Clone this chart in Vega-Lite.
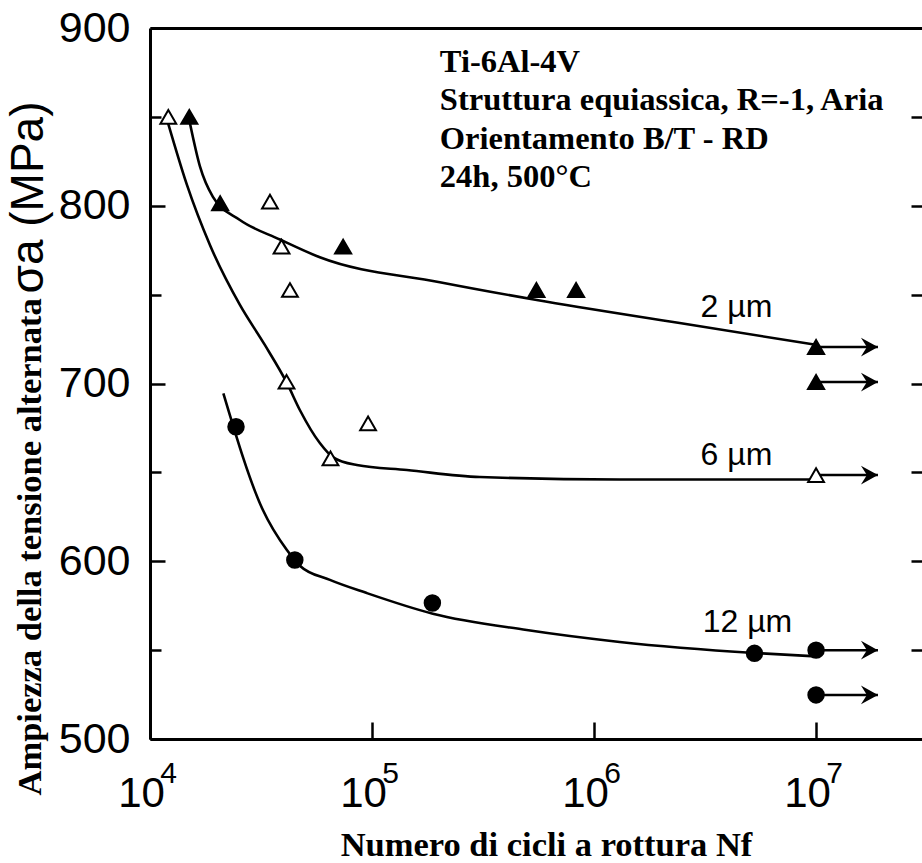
{
  "$schema": "https://vega.github.io/schema/vega-lite/v6.json",
  "width": 772,
  "height": 711,
  "autosize": {"type": "none"},
  "padding": {"left": 150, "top": 28, "right": 0, "bottom": 124},
  "background": "white",
  "config": {
    "view": {"stroke": null},
    "axis": {"grid": false, "domainColor": "black", "tickColor": "black", "labelColor": "black", "titleColor": "black"}
  },
  "datasets": {
    "curves": [
      {"series": "2 µm", "N": 15100, "S": 847},
      {"series": "2 µm", "N": 16800, "S": 822},
      {"series": "2 µm", "N": 19200, "S": 805},
      {"series": "2 µm", "N": 25400, "S": 792},
      {"series": "2 µm", "N": 38500, "S": 781},
      {"series": "2 µm", "N": 58200, "S": 771},
      {"series": "2 µm", "N": 202000, "S": 757},
      {"series": "2 µm", "N": 552000, "S": 747},
      {"series": "2 µm", "N": 2430000, "S": 734},
      {"series": "2 µm", "N": 10300000, "S": 721.5},
      {"series": "6 µm", "N": 12050, "S": 846.6},
      {"series": "6 µm", "N": 14670, "S": 811.7},
      {"series": "6 µm", "N": 18620, "S": 777.9},
      {"series": "6 µm", "N": 25410, "S": 744.2},
      {"series": "6 µm", "N": 32900, "S": 721.7},
      {"series": "6 µm", "N": 41360, "S": 700.3},
      {"series": "6 µm", "N": 47300, "S": 685.1},
      {"series": "6 µm", "N": 58200, "S": 666.5},
      {"series": "6 µm", "N": 66600, "S": 658.6},
      {"series": "6 µm", "N": 85400, "S": 654.1},
      {"series": "6 µm", "N": 143600, "S": 651.3},
      {"series": "6 µm", "N": 306000, "S": 647.4},
      {"series": "6 µm", "N": 1303000, "S": 646},
      {"series": "6 µm", "N": 10000000, "S": 646},
      {"series": "12 µm", "N": 21400, "S": 694.5},
      {"series": "12 µm", "N": 32250, "S": 628.8},
      {"series": "12 µm", "N": 41360, "S": 606.3},
      {"series": "12 µm", "N": 47300, "S": 597.5},
      {"series": "12 µm", "N": 64600, "S": 589.5},
      {"series": "12 µm", "N": 94700, "S": 582.1},
      {"series": "12 µm", "N": 187800, "S": 570.5},
      {"series": "12 µm", "N": 497500, "S": 561.3},
      {"series": "12 µm", "N": 1304000, "S": 554.6},
      {"series": "12 µm", "N": 5280000, "S": 548.4},
      {"series": "12 µm", "N": 10000000, "S": 546.5}
    ],
    "points": [
      {"series": "2 µm", "N": 15030, "S": 850},
      {"series": "2 µm", "N": 20700, "S": 801.4},
      {"series": "2 µm", "N": 74100, "S": 777},
      {"series": "2 µm", "N": 550000, "S": 752.6},
      {"series": "2 µm", "N": 830000, "S": 752.6},
      {"series": "2 µm", "N": 10000000, "S": 720.5},
      {"series": "2 µm", "N": 10000000, "S": 700.8},
      {"series": "6 µm", "N": 12090, "S": 850},
      {"series": "6 µm", "N": 34700, "S": 802.3},
      {"series": "6 µm", "N": 39130, "S": 777},
      {"series": "6 µm", "N": 42700, "S": 752.6},
      {"series": "6 µm", "N": 41200, "S": 701},
      {"series": "6 µm", "N": 96000, "S": 677.6},
      {"series": "6 µm", "N": 65000, "S": 657.9},
      {"series": "6 µm", "N": 10000000, "S": 648.5},
      {"series": "12 µm", "N": 24400, "S": 675.7},
      {"series": "12 µm", "N": 44900, "S": 600.7},
      {"series": "12 µm", "N": 187000, "S": 576.5},
      {"series": "12 µm", "N": 5280000, "S": 548.2},
      {"series": "12 µm", "N": 10000000, "S": 550},
      {"series": "12 µm", "N": 10000000, "S": 524.8}
    ],
    "arrows": [
      {"N": 10000000, "N_end": 19000000, "S": 720.5},
      {"N": 10000000, "N_end": 19000000, "S": 700.8},
      {"N": 10000000, "N_end": 19000000, "S": 648.5},
      {"N": 10000000, "N_end": 19000000, "S": 550},
      {"N": 10000000, "N_end": 19000000, "S": 524.8}
    ],
    "labels": [
      {"label": "2 µm", "N": 4380000, "S": 737.4},
      {"label": "6 µm", "N": 4380000, "S": 654.1},
      {"label": "12 µm", "N": 4910000, "S": 560.2}
    ],
    "header": [
      {"line": "Ti-6Al-4V", "N": 202000, "S": 875.3},
      {"line": "Struttura equiassica, R=-1, Aria", "N": 202000, "S": 853.6},
      {"line": "Orientamento B/T - RD", "N": 202000, "S": 831.9},
      {"line": "24h, 500°C", "N": 202000, "S": 810.6}
    ]
  },
  "layer": [
    {
      "data": {"name": "curves"},
      "mark": {"type": "line", "color": "black", "strokeWidth": 2.6, "interpolate": "monotone"},
      "encoding": {
        "x": {
          "field": "N", "type": "quantitative",
          "scale": {"type": "log", "domain": [10000, 30000000], "nice": false},
          "axis": {
            "orient": "bottom", "values": [10000, 100000, 1000000, 10000000],
            "tickSize": -17, "tickWidth": 2.5, "domainWidth": 3,
            "labelExpr": "'10'", "labelFont": "Liberation Sans",
            "labelFontSize": 42, "labelOffset": -9, "labelPadding": 51, "labelBaseline": "top",
            "labelFlush": false, "labelOverlap": false,
            "title": "Numero di cicli a rottura Nf", "titleFont": "Liberation Serif", "titleFontWeight": "bold",
            "titleFontSize": 34.5, "titleX": 396, "titleY": 116, "titleAlign": "center", "titleBaseline": "alphabetic"
          }
        },
        "y": {
          "field": "S", "type": "quantitative",
          "scale": {"domain": [500, 900], "nice": false, "zero": false},
          "axis": {
            "orient": "left", "values": [500, 600, 700, 800, 900],
            "tickSize": -15, "tickWidth": 2.5, "domainWidth": 3,
            "labelFont": "Liberation Sans",
            "labelFontSize": 43, "labelPadding": 35, "labelFlush": false, "labelOverlap": false,
            "labelBaseline": "middle", "labelAlign": "right",
            "title": "Ampiezza della tensione alternata", "titleFont": "Liberation Serif", "titleFontWeight": "bold",
            "titleFontSize": 34.5, "titleAngle": 270, "titleAlign": "left", "titleBaseline": "alphabetic",
            "titleX": -110, "titleY": 767
          }
        },
        "detail": {"field": "series", "type": "nominal"}
      }
    },
    {
      "data": {"name": "arrows"},
      "mark": {"type": "rule", "color": "black", "strokeWidth": 2.5},
      "encoding": {
        "x": {
          "field": "N", "type": "quantitative",
          "scale": {"type": "log", "domain": [10000, 30000000], "nice": false},
          "axis": {
            "orient": "bottom", "values": [10000, 100000, 1000000, 10000000],
            "domain": false, "ticks": false,
            "labelExpr": "'' + round(log(datum.value) / LN10)",
            "labelFont": "Liberation Sans",
            "labelFontSize": 30, "labelOffset": 18, "labelPadding": 19, "labelBaseline": "top",
            "labelFlush": false, "labelOverlap": false, "title": null
          }
        },
        "x2": {"field": "N_end"},
        "y": {
          "field": "S", "type": "quantitative",
          "scale": {"domain": [500, 900], "nice": false, "zero": false},
          "axis": {
            "orient": "left", "values": [550, 650, 750, 850], "domain": false, "labels": false,
            "tickSize": -11, "tickWidth": 2.5, "title": null
          }
        }
      }
    },
    {
      "data": {"name": "arrows"},
      "mark": {"type": "point", "shape": "M0,0L-1,-0.55L-0.65,0L-1,0.55Z", "filled": true, "color": "black", "opacity": 1, "size": 1156, "strokeWidth": 0},
      "encoding": {
        "x": {"field": "N_end", "type": "quantitative", "scale": {"type": "log", "domain": [10000, 30000000], "nice": false}, "axis": null},
        "y": {"field": "S", "type": "quantitative", "scale": {"domain": [500, 900], "nice": false, "zero": false}, "axis": null}
      }
    },
    {
      "data": {"name": "points"},
      "mark": {"type": "point", "stroke": "black", "strokeWidth": 2, "opacity": 1, "fillOpacity": 1},
      "encoding": {
        "x": {
          "field": "N", "type": "quantitative",
          "scale": {"type": "log", "domain": [10000, 30000000], "nice": false},
          "axis": {"orient": "top", "domainWidth": 3, "ticks": false, "labels": false, "title": null}
        },
        "y": {
          "field": "S", "type": "quantitative",
          "scale": {"domain": [500, 900], "nice": false, "zero": false},
          "axis": {
            "orient": "right", "values": [550, 600, 650, 700, 750, 800, 850], "domain": false, "labels": false,
            "tickSize": -11, "tickWidth": 2.5, "title": null
          }
        },
        "shape": {"field": "series", "type": "nominal", "scale": {"domain": ["2 µm", "6 µm", "12 µm"], "range": ["triangle-up", "triangle-up", "circle"]}, "legend": null},
        "fill": {"field": "series", "type": "nominal", "scale": {"domain": ["2 µm", "6 µm", "12 µm"], "range": ["black", "white", "black"]}, "legend": null},
        "size": {"field": "series", "type": "ordinal", "scale": {"domain": ["2 µm", "6 µm", "12 µm"], "range": [260, 240, 330]}, "legend": null}
      }
    },
    {
      "data": {"name": "labels"},
      "mark": {"type": "text", "font": "Liberation Sans", "fontSize": 32, "align": "center", "baseline": "alphabetic", "color": "black"},
      "encoding": {
        "x": {"field": "N", "type": "quantitative", "scale": {"type": "log", "domain": [10000, 30000000], "nice": false}, "axis": null},
        "y": {
          "field": "S", "type": "quantitative",
          "scale": {"domain": [500, 900], "nice": false, "zero": false},
          "axis": {
            "orient": "left", "domain": false, "ticks": false, "labels": false,
            "title": "σa (MPa)", "titleFont": "Liberation Sans", "titleFontWeight": "normal", "titleFontSize": 46,
            "titleAngle": 270, "titleAlign": "left", "titleBaseline": "alphabetic", "titleX": -108, "titleY": 265
          }
        },
        "text": {"field": "label", "type": "nominal"}
      }
    },
    {
      "data": {"name": "header"},
      "mark": {"type": "text", "font": "Liberation Serif", "fontWeight": "bold", "fontSize": 32.5, "align": "left", "baseline": "alphabetic", "color": "black"},
      "encoding": {
        "x": {"field": "N", "type": "quantitative", "scale": {"type": "log", "domain": [10000, 30000000], "nice": false}, "axis": null},
        "y": {"field": "S", "type": "quantitative", "scale": {"domain": [500, 900], "nice": false, "zero": false}, "axis": null},
        "text": {"field": "line", "type": "nominal"}
      }
    }
  ],
  "resolve": {"axis": {"x": "independent", "y": "independent"}}
}
